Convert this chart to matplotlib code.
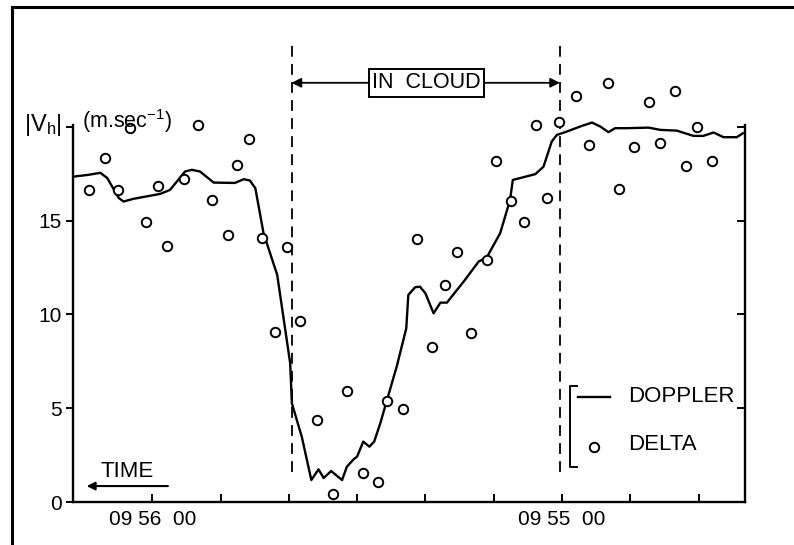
import matplotlib
matplotlib.use("Agg")
import matplotlib.pyplot as plt
from matplotlib.lines import Line2D

plt.rcParams['font.family'] = ['Liberation Sans', 'DejaVu Sans']
plt.rcParams['mathtext.fontset'] = 'custom'
plt.rcParams['mathtext.rm'] = 'Liberation Sans'
plt.rcParams['mathtext.it'] = 'Liberation Sans:italic'

# time in seconds after 09:54:00 (axis runs backwards in time, left to right)
doppler_t = [131.5, 129.4, 127.6, 126.6, 124.9, 124.2, 122.8, 118.8, 117.4, 116.4,
             115.2, 114.2, 113.0, 111.0, 107.9, 106.6, 105.7, 104.9, 103.7, 101.7,
             100.8, 99.8, 99.55, 98.1, 96.7, 95.65, 94.9, 93.8, 92.2, 91.5,
             90.5, 90.0, 89.1, 88.2, 87.5, 86.6, 85.55, 84.2, 82.8, 82.5,
             81.5, 80.8, 80.0, 78.8, 77.8, 76.85, 74.4, 72.2, 71.0, 69.05,
             67.6, 67.2, 63.9, 62.7, 61.5, 60.75, 59.3, 57.1, 55.6, 54.4,
             53.2, 52.2, 50.5, 47.3, 45.6, 43.2, 40.75, 39.3, 37.8, 36.35,
             34.4, 33.5]
doppler_v = [17.35, 17.44, 17.55, 17.28, 16.21, 16.02, 16.16, 16.43, 16.64, 17.08,
             17.62, 17.71, 17.62, 17.03, 17.01, 17.21, 17.14, 16.73, 14.33, 12.11,
             9.88, 7.40, 5.26, 3.48, 1.17, 1.74, 1.28, 1.65, 1.17, 1.88,
             2.28, 2.42, 3.22, 2.95, 3.22, 4.20, 5.53, 7.22, 9.26, 11.04,
             11.45, 11.48, 11.13, 10.06, 10.63, 10.63, 11.75, 12.82, 13.05, 14.33,
             16.11, 17.17, 17.48, 17.88, 19.22, 19.57, 19.75, 20.05, 20.23, 20.02,
             19.72, 19.93, 19.93, 19.96, 19.84, 19.80, 19.52, 19.52, 19.70, 19.45,
             19.45, 19.66]

delta_t = [129.2, 126.9, 125.0, 123.2, 120.9, 119.2, 117.8, 115.3, 113.3, 111.3,
           108.9, 107.6, 105.8, 103.9, 102.0, 100.3, 98.3, 95.9, 93.5, 91.5,
           89.1, 87.0, 85.6, 83.3, 81.2, 79.0, 77.1, 75.4, 73.3, 71.0,
           69.6, 67.5, 65.5, 63.8, 62.2, 60.5, 58.0, 56.0, 53.2, 51.7,
           49.5, 47.2, 45.7, 43.4, 41.9, 40.2, 38.0]
delta_v = [16.64, 18.33, 16.64, 19.93, 14.92, 16.85, 13.65, 17.21, 20.11, 16.11,
           14.25, 17.96, 19.38, 14.08, 9.05, 13.62, 9.63, 4.37, 0.43, 5.94,
           1.53, 1.08, 5.40, 4.94, 14.03, 8.28, 11.57, 13.35, 9.00, 12.91,
           18.20, 16.07, 14.95, 20.09, 16.20, 20.25, 21.65, 19.02, 22.33, 16.68,
           18.92, 21.32, 19.13, 21.92, 17.92, 20.00, 18.20]

x_ticks = [120, 110, 100, 90, 80, 70, 60, 50, 40]
x_labels = ['09 56  00', '', '', '', '', '', '09 55  00', '', '']
y_ticks = [0, 5, 10, 15, 20]
y_labels = ['0', '5', '10', '15', '']
cloud_edges = [99.6, 60.3]

W, H = 794, 545
fig = plt.figure(figsize=(W / 100, H / 100), dpi=100)
ax = fig.add_axes([73 / W, 43 / H, (745 - 73) / W, (502 - 125) / H])
ax.set_xlim(131.6, 33.2)
ax.set_ylim(0, 20.1)

for s in ['left', 'bottom', 'right']:
    ax.spines[s].set_linewidth(1.7)
ax.spines['top'].set_visible(False)

ax.set_xticks(x_ticks)
ax.set_xticklabels(x_labels)
ax.set_yticks(y_ticks)
ax.set_yticklabels(y_labels)
ax.tick_params(axis='x', direction='in', length=6, width=1.4, pad=6, labelsize=15)
ax.tick_params(axis='y', direction='out', length=5, width=1.4, pad=3, labelsize=15)

ax2 = ax.twinx()
ax2.set_ylim(0, 20.1)
ax2.set_yticks(y_ticks)
ax2.tick_params(axis='y', direction='in', length=6, width=1.4, labelright=False)
for s in ax2.spines.values():
    s.set_visible(False)

# data
ax.plot(doppler_t, doppler_v, color='black', lw=1.7, clip_on=False, zorder=3)
ax.plot(delta_t, delta_v, ls='none', marker='o', ms=6.8, mfc='white', mec='black',
        mew=1.4, clip_on=False, zorder=4)

# cloud boundaries
for xe in cloud_edges:
    ax.plot([xe, xe], [1.6, 24.6], color='black', lw=1.3, ls=(0, (6, 4)), clip_on=False)

# IN CLOUD annotation
ya = 22.35
for xe in cloud_edges:
    ax.annotate('', xy=(xe, ya), xytext=(79.8, ya),
                arrowprops=dict(arrowstyle='-|>', color='black', lw=1.3,
                                shrinkA=0, shrinkB=0, mutation_scale=14),
                annotation_clip=False)
ax.text(79.8, ya, 'IN  CLOUD', ha='center', va='center', fontsize=15.5,
        bbox=dict(boxstyle='square,pad=0.15', fc='white', ec='black', lw=1.4),
        zorder=6, clip_on=False)

# legend (manual)
ax.plot([57.8, 58.8, 58.8, 57.8], [6.19, 6.19, 1.87, 1.87], color='black', lw=1.4)
ax.plot([57.6, 53.0], [5.6, 5.6], color='black', lw=1.7)
ax.text(50.3, 5.6, 'DOPPLER', ha='left', va='center', fontsize=16)
ax.plot([55.3], [2.93], ls='none', marker='o', ms=6.8, mfc='white', mec='black', mew=1.4)
ax.text(50.3, 3.04, 'DELTA', ha='left', va='center', fontsize=16)

# TIME arrow
ax.text(127.6, 1.6, 'TIME', ha='left', va='center', fontsize=16)
ax.annotate('', xy=(129.6, 0.85), xytext=(117.7, 0.85),
            arrowprops=dict(arrowstyle='-|>', color='black', lw=1.5,
                            shrinkA=0, shrinkB=0, mutation_scale=12))

# axis label
fig.text(43 / W, 1 - 125 / H, r'$\mathrm{|V_h|}$', ha='center', va='center', fontsize=17)
fig.text(82 / W, 1 - 121 / H, r'(m.sec$^{-1}$)', ha='left', va='center', fontsize=15.5)

# page frame
fig.add_artist(Line2D([12 / W, 12 / W], [0, 1 - 7 / H], color='black', lw=2.2,
                      transform=fig.transFigure))
fig.add_artist(Line2D([12 / W, 1], [1 - 7 / H, 1 - 7 / H], color='black', lw=2.2,
                      transform=fig.transFigure))

fig.savefig('out.png', dpi=100, facecolor='white')
